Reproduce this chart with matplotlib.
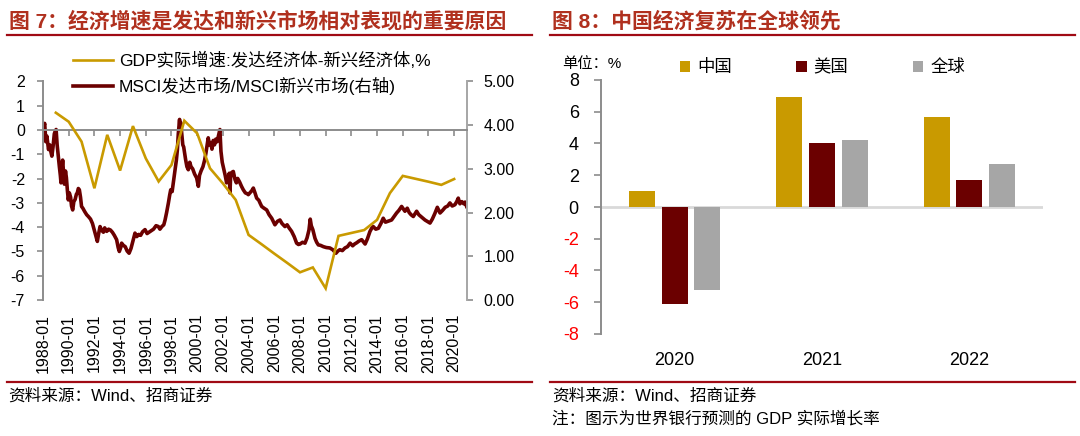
import matplotlib
matplotlib.use('Agg')
import matplotlib.pyplot as plt
from matplotlib.lines import Line2D

plt.rcParams['font.family'] = ['Liberation Sans', 'Noto Sans CJK SC', 'DejaVu Sans']
plt.rcParams['axes.unicode_minus'] = False

# ---------------- data: chart 7 ----------------
gdp_years = [1989, 1990, 1991, 1992, 1993, 1994, 1995, 1996, 1997, 1998,
             1999, 2000, 2001, 2002, 2003, 2004, 2005, 2006, 2007, 2008,
             2009, 2010, 2011, 2012, 2013, 2014, 2015, 2016, 2017, 2018,
             2019, 2020]
gdp_diff = [0.71, 0.34, -0.48, -2.40, -0.20, -1.67, 0.16, -1.17, -2.12, -1.44,
            0.38, -0.14, -1.58, -2.20, -2.88, -4.32, -4.70, -5.09, -5.47, -5.86,
            -5.66, -6.52, -4.36, -4.24, -4.12, -3.70, -2.60, -1.89, -2.01, -2.13,
            -2.26, -2.02]

msci_t = [1988.00, 1988.05, 1988.13, 1988.22, 1988.30, 1988.43, 1988.52, 1988.62, 1988.69, 1988.78,
          1988.88, 1988.95, 1989.02, 1989.10, 1989.20, 1989.27, 1989.35, 1989.40, 1989.47, 1989.53,
          1989.60, 1989.66, 1989.75, 1989.82, 1989.90, 1989.97, 1990.05, 1990.15, 1990.22, 1990.31,
          1990.40, 1990.50, 1990.60, 1990.67, 1990.75, 1990.83, 1990.92, 1991.00, 1991.10, 1991.25,
          1991.40, 1991.53, 1991.70, 1991.85, 1992.05, 1992.15, 1992.23, 1992.32, 1992.44, 1992.55,
          1992.70, 1992.80, 1992.96, 1993.10, 1993.25, 1993.40, 1993.55, 1993.73, 1993.85, 1993.94,
          1994.05, 1994.12, 1994.25, 1994.40, 1994.55, 1994.70, 1994.85, 1995.00, 1995.16, 1995.30,
          1995.45, 1995.60, 1995.75, 1995.94, 1996.10, 1996.25, 1996.40, 1996.60, 1996.80, 1996.98,
          1997.10, 1997.25, 1997.40, 1997.50, 1997.62, 1997.76, 1997.86, 1997.94, 1998.05, 1998.15,
          1998.28, 1998.38, 1998.46, 1998.53, 1998.58, 1998.63, 1998.68, 1998.73, 1998.80, 1998.88,
          1998.95, 1999.10, 1999.20, 1999.31, 1999.42, 1999.52, 1999.65, 1999.80, 1999.96, 2000.05,
          2000.09, 2000.18, 2000.30, 2000.45, 2000.58, 2000.68, 2000.78, 2000.86, 2000.95, 2001.05,
          2001.15, 2001.25, 2001.35, 2001.45, 2001.55, 2001.65, 2001.77, 2001.85, 2001.95, 2002.08,
          2002.18, 2002.29, 2002.40, 2002.50, 2002.55, 2002.60, 2002.70, 2002.81, 2002.95, 2003.05,
          2003.15, 2003.30, 2003.45, 2003.59, 2003.75, 2003.90, 2003.98, 2004.10, 2004.25, 2004.37,
          2004.50, 2004.63, 2004.80, 2004.89, 2005.02, 2005.20, 2005.41, 2005.60, 2005.80, 2006.05,
          2006.25, 2006.44, 2006.60, 2006.83, 2007.00, 2007.15, 2007.35, 2007.55, 2007.74, 2007.88,
          2008.00, 2008.20, 2008.39, 2008.55, 2008.70, 2008.80, 2008.88, 2009.00, 2009.17, 2009.30,
          2009.43, 2009.60, 2009.82, 2010.05, 2010.33, 2010.55, 2010.80, 2010.95, 2011.10, 2011.30,
          2011.50, 2011.70, 2011.90, 2012.10, 2012.25, 2012.42, 2012.60, 2012.80, 2013.07, 2013.25,
          2013.45, 2013.60, 2013.70, 2013.90, 2014.10, 2014.30, 2014.48, 2014.65, 2014.85, 2015.13,
          2015.35, 2015.52, 2015.70, 2015.91, 2016.05, 2016.17, 2016.35, 2016.50, 2016.65, 2016.82,
          2017.08, 2017.25, 2017.45, 2017.60, 2017.73, 2017.90, 2018.12, 2018.30, 2018.50, 2018.69,
          2018.80, 2018.90, 2019.10, 2019.30, 2019.50, 2019.67, 2019.85, 2020.06, 2020.20, 2020.32,
          2020.45, 2020.60, 2020.75, 2020.85, 2020.97]
msci_ratio = [3.67, 3.95, 4.04, 3.62, 3.75, 3.44, 3.55, 3.38, 3.29, 3.50,
              3.80, 3.86, 3.90, 3.55, 3.25, 3.06, 2.85, 2.68, 3.00, 3.20,
              2.90, 2.65, 2.95, 2.80, 2.50, 2.29, 2.45, 2.35, 2.15, 2.06,
              2.25, 2.30, 2.42, 2.45, 2.55, 2.52, 2.35, 2.14, 2.10, 2.02,
              1.95, 1.91, 1.85, 1.75, 1.53, 1.42, 1.34, 1.50, 1.68, 1.60,
              1.55, 1.65, 1.57, 1.62, 1.60, 1.55, 1.48, 1.38, 1.20, 1.11,
              1.20, 1.30, 1.25, 1.22, 1.12, 1.07, 1.18, 1.35, 1.53, 1.45,
              1.50, 1.48, 1.56, 1.61, 1.52, 1.55, 1.58, 1.62, 1.70, 1.68,
              1.62, 1.68, 1.72, 1.83, 2.00, 2.22, 2.40, 2.52, 2.48, 2.70,
              2.98, 3.20, 3.44, 3.80, 3.97, 4.13, 3.75, 4.05, 3.80, 3.55,
              3.50, 3.21, 3.05, 2.98, 3.15, 3.05, 3.00, 2.88, 2.79, 2.65,
              2.60, 2.85, 2.95, 3.05, 3.20, 3.36, 3.55, 3.71, 3.55, 3.60,
              3.45, 3.65, 3.55, 3.68, 3.62, 3.75, 3.90, 3.40, 3.15, 2.98,
              2.85, 2.68, 2.80, 2.90, 2.45, 2.80, 2.92, 2.94, 2.75, 2.68,
              2.78, 2.70, 2.60, 2.52, 2.45, 2.43, 2.41, 2.45, 2.50, 2.56,
              2.45, 2.33, 2.28, 2.22, 2.14, 2.10, 2.06, 1.95, 1.87, 1.72,
              1.80, 1.83, 1.75, 1.68, 1.72, 1.65, 1.57, 1.45, 1.30, 1.27,
              1.28, 1.32, 1.30, 1.42, 1.60, 1.85, 1.70, 1.61, 1.41, 1.32,
              1.26, 1.25, 1.22, 1.20, 1.19, 1.15, 1.07, 1.12, 1.15, 1.13,
              1.19, 1.22, 1.30, 1.24, 1.28, 1.31, 1.35, 1.38, 1.28, 1.40,
              1.57, 1.65, 1.68, 1.62, 1.64, 1.75, 1.87, 1.78, 1.80, 1.83,
              1.92, 1.99, 2.05, 2.14, 2.08, 2.03, 2.10, 2.00, 1.95, 1.91,
              2.03, 1.95, 1.90, 1.86, 1.83, 1.80, 1.76, 1.85, 1.98, 2.12,
              2.05, 1.99, 2.05, 2.12, 2.15, 2.22, 2.15, 2.18, 2.25, 2.33,
              2.20, 2.25, 2.20, 2.24, 2.14]

x_tick_years = list(range(1988, 2021, 2))
x_tick_labels = [f"{y}-01" for y in x_tick_years]
left_ticks = [2, 1, 0, -1, -2, -3, -4, -5, -6, -7]
right_ticks = [0, 1, 2, 3, 4, 5]

# ---------------- data: chart 8 ----------------
bar_years = ['2020', '2021', '2022']
china = [1.0, 6.9, 5.7]
usa = [-6.1, 4.0, 1.7]
world = [-5.2, 4.2, 2.7]
bar_ticks = [8, 6, 4, 2, 0, -2, -4, -6, -8]

GOLD = '#C99A00'
MAROON = '#6B0000'
GRAY = '#A6A6A6'
AX = '#8C8C8C'
TITLE = '#B0301E'
RULE = '#A00A14'

fig = plt.figure(figsize=(10.8, 4.36), dpi=100)

# ---------- titles and rules ----------
fig.text(9/1080, 1-21/436, '图 7：经济增速是发达和新兴市场相对表现的重要原因',
         fontsize=15, fontweight='bold', color=TITLE, va='center', ha='left')
fig.text(552/1080, 1-21/436, '图 8：中国经济复苏在全球领先',
         fontsize=15, fontweight='bold', color=TITLE, va='center', ha='left')
for x0, x1 in [(7, 532), (550, 1075)]:
    fig.add_artist(Line2D([x0/1080, x1/1080], [1-35.5/436]*2, color=RULE, lw=1.6,
                          transform=fig.transFigure))
    fig.add_artist(Line2D([x0/1080, x1/1080], [1-382/436]*2, color=RULE, lw=1.6,
                          transform=fig.transFigure))
fig.text(8/1080, 1-396/436, '资料来源：Wind、招商证券', fontsize=12, va='center', ha='left')
fig.text(552/1080, 1-396/436, '资料来源：Wind、招商证券', fontsize=12, va='center', ha='left')
fig.text(552/1080, 1-419/436, '注：图示为世界银行预测的 GDP 实际增长率', fontsize=12,
         va='center', ha='left')

# ---------- chart 7 ----------
ax = fig.add_axes([43/1080, 1-300/436, 424/1080, 218.6/436])
axr = ax.twinx()
ax.set_zorder(axr.get_zorder() + 1)
ax.patch.set_visible(False)

l1, = ax.plot(gdp_years, gdp_diff, color=GOLD, lw=1.9, solid_joinstyle='miter', zorder=3)
l2, = axr.plot(msci_t, msci_ratio, color=MAROON, lw=2.6, zorder=2)

ax.set_xlim(1988, 2021)
ax.set_ylim(-7, 2)
axr.set_ylim(0, 5)
ax.set_yticks(left_ticks)
ax.set_yticklabels([str(t) for t in left_ticks])
axr.set_yticks(right_ticks)
axr.set_yticklabels([f"{t:.2f}" for t in right_ticks])

ax.set_xticks(x_tick_years)
ax.set_xticklabels(x_tick_labels, rotation=90)
ax.tick_params(axis='x', length=0, pad=10, labelsize=11.5)
ax.tick_params(axis='y', length=4, width=1.2, color=AX, pad=9, labelsize=11.5)
axr.tick_params(axis='y', length=4, width=1.2, color=AX, pad=8, labelsize=11.5)

for a in (ax, axr):
    for s in ('top', 'bottom'):
        a.spines[s].set_visible(False)
ax.spines['right'].set_visible(False)
axr.spines['left'].set_visible(False)
ax.spines['left'].set_color(AX)
ax.spines['left'].set_linewidth(1.4)
axr.spines['right'].set_color('#A6A6A6')
axr.spines['right'].set_linewidth(1.4)

# zero line with tick marks
zero_pos = (0 - (-7)) / (2 - (-7))
sec = ax.secondary_xaxis(zero_pos)
sec.set_alignment('bottom')
sec.set_xticks(x_tick_years)
sec.tick_params(axis='x', direction='out', length=4, width=1.2, color=AX,
                labelbottom=False, labeltop=False)
for s in sec.spines.values():
    s.set_color(AX)
    s.set_linewidth(1.4)

fig.legend([l1, l2], ['GDP实际增速:发达经济体-新兴经济体,%', 'MSCI发达市场/MSCI新兴市场(右轴)'],
           loc='upper left', bbox_to_anchor=(73/1080, 1-52/436), frameon=False,
           fontsize=12.5, handlelength=2.3, handletextpad=0.35, labelspacing=0.45,
           borderpad=0, borderaxespad=0)

# ---------- chart 8 ----------
bx = fig.add_axes([601/1080, 1-334/436, 442/1080, 254/436])
xs = list(range(len(bar_years)))
w = 0.175
off = 0.222
b1 = bx.bar([x - off for x in xs], china, width=w, color=GOLD, zorder=2)
b2 = bx.bar(xs, usa, width=w, color=MAROON, zorder=2)
b3 = bx.bar([x + off for x in xs], world, width=w, color=GRAY, zorder=2)
bx.axhline(0, color='#D9D9D9', lw=2.0, zorder=1)

bx.set_xlim(-0.5, 2.5)
bx.set_ylim(-8, 8)
bx.set_yticks(bar_ticks)
bx.set_yticklabels([str(t) for t in bar_ticks])
for lab, t in zip(bx.get_yticklabels(), bar_ticks):
    if t < 0:
        lab.set_color('#FF0000')
bx.set_xticks(xs)
bx.set_xticklabels(bar_years)
bx.tick_params(axis='x', length=0, pad=13, labelsize=13)
bx.tick_params(axis='y', length=5, width=1.2, color=AX, pad=11, labelsize=13)
for s in ('top', 'right', 'bottom'):
    bx.spines[s].set_visible(False)
bx.spines['left'].set_color(AX)
bx.spines['left'].set_linewidth(1.4)

fig.text(562/1080, 1-64/436, '单位：%', fontsize=11, va='center', ha='left')
bx.legend([b1, b2, b3], ['中国', '美国', '全球'], ncol=3, loc='center left',
          bbox_to_anchor=(680/1080, 1-67/436), bbox_transform=fig.transFigure,
          frameon=False, fontsize=12.5, handlelength=0.6, handleheight=0.6,
          handletextpad=0.4, columnspacing=3.7, borderpad=0, borderaxespad=0)

fig.savefig('out.png', dpi=100)
